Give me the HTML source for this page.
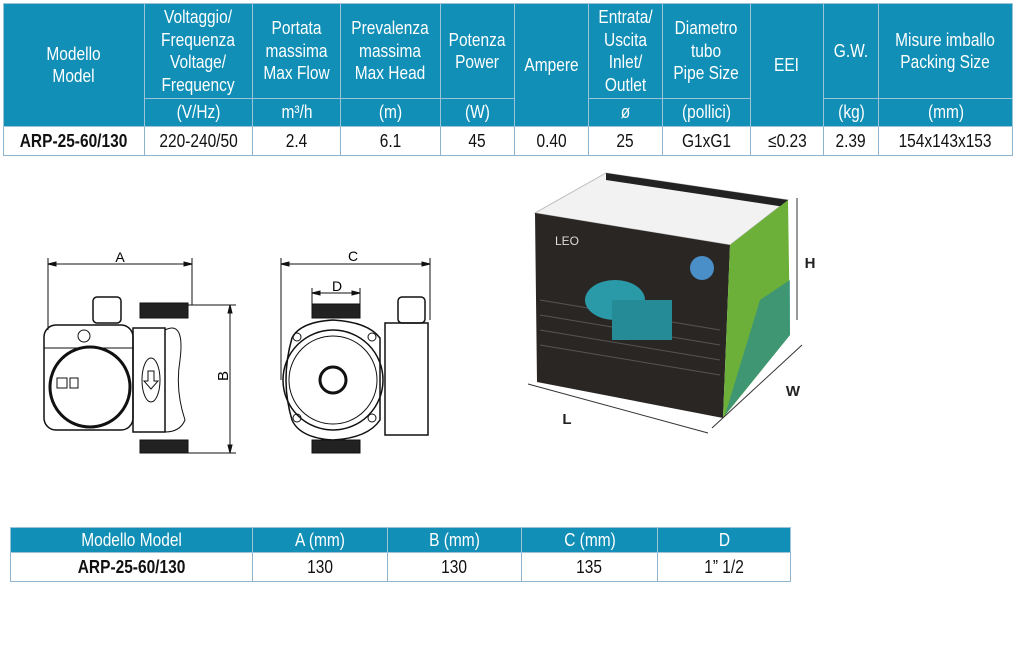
<!DOCTYPE html>
<html><head><meta charset="utf-8"><style>
body{margin:0;width:1017px;height:645px;background:#fff;position:relative;overflow:hidden;font-family:"Liberation Sans Narrow","Liberation Sans",sans-serif;}
table{border-collapse:collapse;table-layout:fixed;position:absolute;}
td{text-align:center;vertical-align:middle;padding:0;border:1px solid #8fb4cf;white-space:nowrap;}
td span{display:inline-block;transform:scaleX(0.86);transform-origin:center;}
.h td{background:#118fb7;color:#fff;font-size:18px;line-height:22.5px;border-color:#9cc3d8;}
.d td{background:#fff;color:#111;font-size:18px;}
.b{font-weight:bold;}
</style></head><body>
<table style="left:3px;top:3px;width:1009px;">
<colgroup><col style="width:141px"><col style="width:108px"><col style="width:88px"><col style="width:100px"><col style="width:74px"><col style="width:74px"><col style="width:74px"><col style="width:88px"><col style="width:73px"><col style="width:55px"><col style="width:134px"></colgroup>
<tr class="h" style="height:95px"><td rowspan="2"><span>Modello<br>Model</span></td><td><span>Voltaggio/<br>Frequenza<br>Voltage/<br>Frequency</span></td><td><span>Portata<br>massima<br>Max Flow</span></td><td><span>Prevalenza<br>massima<br>Max Head</span></td><td><span>Potenza<br>Power</span></td><td rowspan="2"><span>Ampere</span></td><td><span>Entrata/<br>Uscita<br>Inlet/<br>Outlet</span></td><td><span>Diametro<br>tubo<br>Pipe Size</span></td><td rowspan="2"><span>EEI</span></td><td><span>G.W.</span></td><td><span>Misure imballo<br>Packing Size</span></td></tr>
<tr class="h" style="height:28px"><td><span>(V/Hz)</span></td><td><span>m³/h</span></td><td><span>(m)</span></td><td><span>(W)</span></td><td><span>ø</span></td><td><span>(pollici)</span></td><td><span>(kg)</span></td><td><span>(mm)</span></td></tr>
<tr class="d" style="height:29px"><td class="b"><span>ARP-25-60/130</span></td><td><span>220-240/50</span></td><td><span>2.4</span></td><td><span>6.1</span></td><td><span>45</span></td><td><span>0.40</span></td><td><span>25</span></td><td><span>G1xG1</span></td><td><span>≤0.23</span></td><td><span>2.39</span></td><td><span>154x143x153</span></td></tr>
</table>

<table style="left:10px;top:527px;width:780px;">
<colgroup><col style="width:242px"><col style="width:135px"><col style="width:134px"><col style="width:136px"><col style="width:133px"></colgroup>
<tr class="h" style="height:25px"><td><span>Modello Model</span></td><td><span>A (mm)</span></td><td><span>B (mm)</span></td><td><span>C (mm)</span></td><td><span>D</span></td></tr>
<tr class="d" style="height:29px"><td class="b"><span>ARP-25-60/130</span></td><td><span>130</span></td><td><span>130</span></td><td><span>135</span></td><td><span>1” 1/2</span></td></tr>
</table>

<svg width="1017" height="645" style="position:absolute;left:0;top:0" font-family="Liberation Sans, sans-serif">
<g stroke="#111" fill="none" stroke-width="1">
<line x1="48" y1="258" x2="48" y2="330"/><line x1="192" y1="258" x2="192" y2="305"/>
<line x1="48" y1="264" x2="192" y2="264"/>
<path d="M48 264 l8 -2 v4z M192 264 l-8 -2 v4z" fill="#111"/>
<line x1="188" y1="305" x2="236" y2="305"/><line x1="188" y1="453" x2="236" y2="453"/>
<line x1="230" y1="305" x2="230" y2="453"/>
<path d="M230 305 l-2 8 h4z M230 453 l-2 -8 h4z" fill="#111"/>
<rect x="44" y="325" width="89" height="105" rx="12" stroke-width="1.5"/>
<line x1="44" y1="348" x2="133" y2="348"/>
<circle cx="90" cy="387" r="40" stroke-width="3"/>
<circle cx="84" cy="336" r="6"/>
<rect x="93" y="297" width="28" height="26" rx="4" stroke-width="1.5"/>
<rect x="133" y="328" width="32" height="104" stroke-width="1.5"/>
<ellipse cx="151" cy="380" rx="9" ry="22"/>
<path d="M148 371 v10 h-4 l7 8 l7 -8 h-4 v-10z"/>
<path d="M165 330 Q185 320 180 360 Q175 390 185 420 Q180 432 165 432"/>
<rect x="140" y="303" width="48" height="15" fill="#222"/>
<rect x="140" y="440" width="48" height="13" fill="#222"/>
<rect x="57" y="378" width="10" height="10"/><rect x="70" y="378" width="8" height="10"/>
<line x1="281" y1="258" x2="281" y2="380"/><line x1="430" y1="258" x2="430" y2="320"/>
<line x1="281" y1="264" x2="430" y2="264"/>
<path d="M281 264 l8 -2 v4z M430 264 l-8 -2 v4z" fill="#111"/>
<line x1="312" y1="288" x2="312" y2="305"/><line x1="360" y1="288" x2="360" y2="305"/>
<line x1="312" y1="293" x2="360" y2="293"/>
<path d="M312 293 l8 -2 v4z M360 293 l-8 -2 v4z" fill="#111"/>
<rect x="312" y="304" width="48" height="14" fill="#222"/>
<rect x="312" y="440" width="48" height="13" fill="#222"/>
<path d="M292 338 Q300 322 333 320 Q368 322 380 338 L380 420 Q368 438 333 440 Q300 438 292 420 Q280 380 292 338Z" stroke-width="1.5"/>
<circle cx="333" cy="380" r="50" stroke-width="1.5"/>
<circle cx="333" cy="380" r="44"/>
<circle cx="333" cy="380" r="13" stroke-width="3"/>
<circle cx="297" cy="337" r="4"/><circle cx="372" cy="337" r="4"/><circle cx="297" cy="418" r="4"/><circle cx="372" cy="418" r="4"/>
<rect x="385" y="323" width="43" height="112" stroke-width="1.5"/>
<rect x="398" y="297" width="27" height="26" rx="4" stroke-width="1.5"/>
</g>
<text x="120" y="262" font-size="14" text-anchor="middle">A</text>
<text x="353" y="261" font-size="14" text-anchor="middle">C</text>
<text x="337" y="291" font-size="14" text-anchor="middle">D</text>
<text x="0" y="0" font-size="15" text-anchor="middle" transform="translate(228,376) rotate(-90)">B</text>
<polygon points="606,173 788,200 730,245 535,213" fill="#f2f2f2" stroke="#bbb"/>
<polygon points="606,173 788,200 785,207 606,180" fill="#222"/>
<polygon points="535,213 730,245 723,418 537,382" fill="#2a2624"/>
<g stroke="#555" stroke-width="1">
<line x1="540" y1="300" x2="720" y2="330"/><line x1="540" y1="315" x2="720" y2="345"/><line x1="540" y1="330" x2="720" y2="360"/><line x1="540" y1="345" x2="720" y2="375"/>
</g>
<polygon points="730,245 788,200 790,335 723,418" fill="#6cb03a"/>
<polygon points="760,300 790,280 790,335 725,415" fill="#2c8c8a" opacity="0.7"/>
<ellipse cx="615" cy="300" rx="30" ry="20" fill="#2a9aa8"/>
<rect x="612" y="300" width="60" height="40" fill="#258b96"/>
<circle cx="702" cy="268" r="12" fill="#4a8fc8"/>
<text x="555" y="245" font-size="12" fill="#ddd">LEO</text>
<g stroke="#333" stroke-width="1">
<line x1="797" y1="198" x2="797" y2="320"/><line x1="528" y1="384" x2="708" y2="433"/><line x1="712" y1="428" x2="802" y2="345"/>
</g>
<text x="810" y="268" font-size="15" font-weight="bold" fill="#222" text-anchor="middle">H</text>
<text x="793" y="396" font-size="15" font-weight="bold" fill="#222" text-anchor="middle">W</text>
<text x="567" y="424" font-size="15" font-weight="bold" fill="#222" text-anchor="middle">L</text>
</svg>
</body></html>
